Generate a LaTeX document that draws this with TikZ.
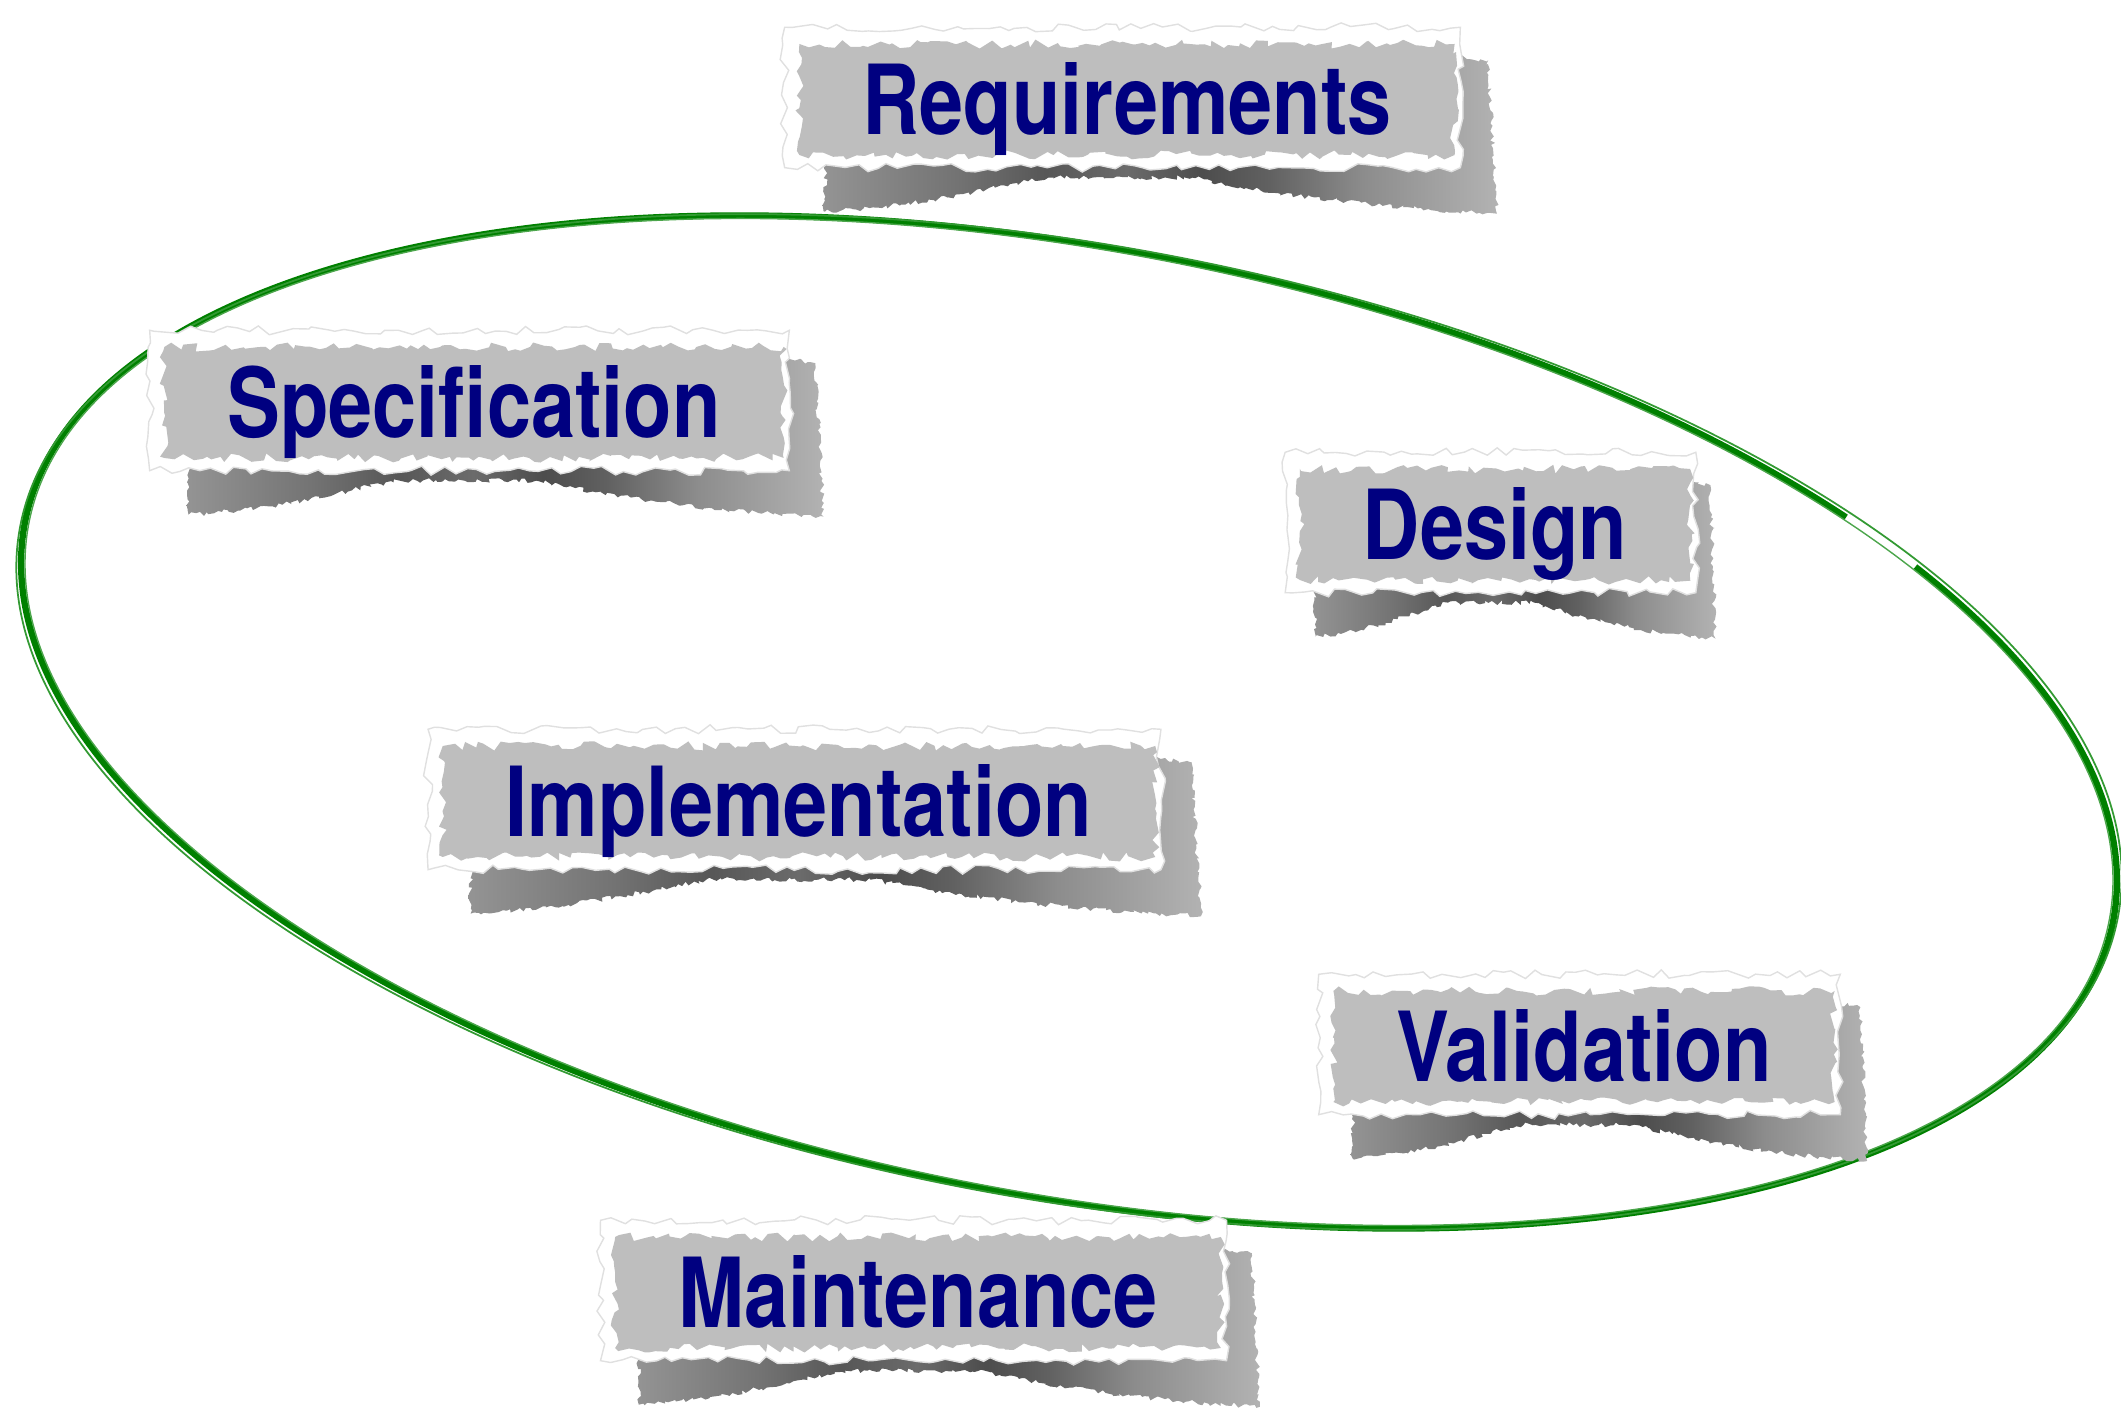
\documentclass[tikz,border=0pt]{standalone}
\usepackage{fontspec}
\newfontfamily\scrapfont{TeX Gyre Heros}[FakeStretch=0.82]
\usetikzlibrary{calc,decorations.pathmorphing}

\definecolor{scrapgray}{RGB}{190,190,190}
\definecolor{scrapblue}{RGB}{0,0,128}
\definecolor{ringgreen}{RGB}{0,128,0}

\pgfdeclarelayer{background}
\pgfdeclarelayer{shadow}
\pgfdeclarelayer{rim}
\pgfsetlayers{background,shadow,rim,main}

% sombra curvada bajo cada papel
\pgfdeclarehorizontalshading{curl}{100bp}{color(0bp)=(black!42); color(25bp)=(black!42);
	color(35bp)=(black!55); color(41.5bp)=(black!66); color(47.5bp)=(black!58);
	color(53bp)=(black!70); color(58bp)=(black!62); color(65bp)=(black!45);
	color(75bp)=(black!30); color(100bp)=(black!30)}

\begin{document}
\begin{tikzpicture}
\useasboundingbox (0,0) rectangle (21.21,14.18);

% Elipse
\begin{pgfonlayer}{background}
\begin{scope}[shift={(10.69,6.96)}, rotate=-10.8]
	\draw[ringgreen, line width=1.8pt] (47:10.63 and 4.74)
		arc[start angle=47, end angle=401, x radius=10.63, y radius=4.74];
	\draw[ringgreen!70, line width=.4pt] (0,0) ellipse[x radius=10.59, y radius=4.71];
	\draw[ringgreen!80, line width=.5pt, rotate=.3] (0,0) ellipse[x radius=10.67, y radius=4.77];
\end{scope}
\end{pgfonlayer}

% Etiquetas
\begin{scope}[
		every node/.style = {fill = scrapgray, text = scrapblue,
		font = \scrapfont\bfseries\fontsize{27.5}{30}\selectfont,
		inner xsep = .63cm, inner ysep = 0pt, text height = .91cm,
		text depth = .2cm, anchor = base, decorate,
		decoration = {random steps, segment length = 2pt, amplitude = 1.3pt}}]
	\node (req) at (11.27,12.83) {Requirements};
	\node (spec) at (4.74,9.80) {Specification};
	\node (design) at (14.95,8.58) {Design};
	\node (impl) at (7.99,5.81) {Implementation};
	\node (valid) at (15.84,3.36) {Validation};
	\node (maint) at (9.18,0.90) {Maintenance};
\end{scope}

% Bordes y sombras
\foreach \lbl in {req,spec,design,impl,valid,maint} {
	\begin{pgfonlayer}{rim}
	\path[fill=white, draw=black!12, line width=.4pt, decorate,
		decoration={random steps, segment length=3pt, amplitude=1.3pt}]
		([shift={(-.14,.16)}]\lbl.north west) rectangle ([shift={(.05,-.12)}]\lbl.south east);
	\end{pgfonlayer}
	\begin{pgfonlayer}{shadow}
	\path[shading=curl, decorate,
		decoration={random steps, segment length=1pt, amplitude=.7pt}]
		let \p1 = (\lbl.south west), \p2 = (\lbl.north east),
			\n1 = {\x2-\x1}, \n2 = {\y2-\y1} in
		({\x1+.04*\n1},{\y1+.1cm}) -- ({\x1+.04*\n1},{\y1-.56cm})
		.. controls ({\x1+.2*\n1},{\y1-.5cm}) and ({\x1+.3*\n1},{\y1-.3cm}) .. ({\x1+.38*\n1},{\y1-.22cm})
		-- ({\x1+.6*\n1},{\y1-.22cm})
		.. controls ({\x1+.68*\n1},{\y1-.32cm}) and ({\x1+.82*\n1},{\y1-.5cm}) .. ({\x2+.063*\n1},{\y1-.58cm})
		-- ({\x2+.05*\n1},{\y1+.85*\n2}) -- ({\x2-.02*\n1},{\y1+.9*\n2}) -- cycle;
	\end{pgfonlayer}
}
\end{tikzpicture}
\end{document}
